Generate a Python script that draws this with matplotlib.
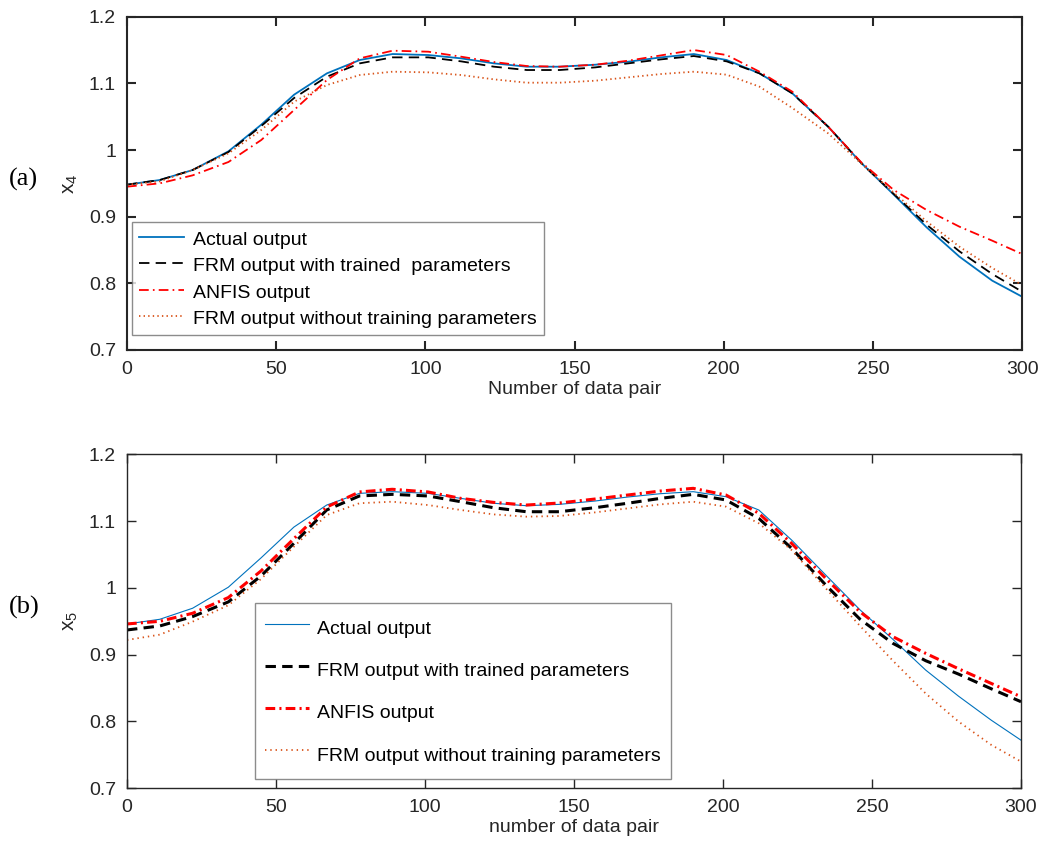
import matplotlib
matplotlib.use("Agg")
import matplotlib.pyplot as plt
import numpy as np

# sample positions (number of data pair)
pairs = [0, 11, 22, 34, 45, 56, 67, 78, 89, 101, 112, 123, 134, 145, 157, 168,
         179, 190, 201, 212, 223, 235, 246, 257, 268, 279, 290, 300]

# panel (a): x4
x4_actual = [0.948, 0.955, 0.970, 0.998, 1.038, 1.083, 1.115, 1.135, 1.144, 1.1425, 1.1375, 1.130,
             1.125, 1.125, 1.128, 1.1325, 1.139, 1.144, 1.135, 1.115, 1.085, 1.035, 0.981, 0.933,
             0.884, 0.840, 0.804, 0.780]
x4_frm_trained = [0.948, 0.955, 0.970, 0.997, 1.036, 1.078, 1.110, 1.130, 1.139, 1.139, 1.133, 1.125,
                  1.120, 1.120, 1.124, 1.130, 1.136, 1.141, 1.133, 1.115, 1.085, 1.035, 0.981, 0.934,
                  0.888, 0.848, 0.814, 0.7875]
x4_anfis = [0.945, 0.950, 0.962, 0.982, 1.015, 1.060, 1.105, 1.1375, 1.149, 1.1475, 1.140, 1.132,
            1.126, 1.125, 1.128, 1.134, 1.142, 1.150, 1.1425, 1.1175, 1.0875, 1.035, 0.982, 0.940,
            0.910, 0.885, 0.864, 0.844]
x4_frm_untrained = [0.948, 0.953, 0.970, 0.995, 1.030, 1.0725, 1.0975, 1.1125, 1.1175, 1.1165, 1.1125, 1.106,
                    1.101, 1.101, 1.104, 1.109, 1.114, 1.1175, 1.113, 1.095, 1.063, 1.025, 0.980, 0.936,
                    0.893, 0.855, 0.823, 0.7975]

# panel (b): x5
x5_actual = [0.946, 0.953, 0.9695, 1.001, 1.045, 1.091, 1.124, 1.1415, 1.144, 1.1415, 1.134, 1.1267,
             1.123, 1.125, 1.130, 1.136, 1.141, 1.144, 1.1365, 1.1166, 1.0717, 1.0168, 0.967, 0.923,
             0.877, 0.838, 0.802, 0.772]
x5_frm_trained = [0.937, 0.943, 0.957, 0.979, 1.018, 1.0667, 1.1166, 1.1376, 1.140, 1.1376, 1.129, 1.120,
                  1.114, 1.114, 1.120, 1.1267, 1.134, 1.140, 1.1316, 1.104, 1.0593, 1.0018, 0.953, 0.917,
                  0.891, 0.871, 0.849, 0.8296]
x5_anfis = [0.946, 0.950, 0.962, 0.9855, 1.0255, 1.0737, 1.121, 1.1436, 1.1476, 1.1436, 1.134, 1.128,
            1.124, 1.127, 1.133, 1.139, 1.145, 1.149, 1.139, 1.1117, 1.0667, 1.0118, 0.964, 0.927,
            0.902, 0.879, 0.857, 0.837]
x5_frm_untrained = [0.922, 0.930, 0.9494, 0.974, 1.0134, 1.0617, 1.109, 1.1267, 1.129, 1.124, 1.1166, 1.110,
                    1.1066, 1.1076, 1.113, 1.119, 1.125, 1.129, 1.1216, 1.0967, 1.0567, 0.9968, 0.943, 0.891,
                    0.842, 0.800, 0.765, 0.740]

labels_a = ['Actual output', 'FRM output with trained  parameters', 'ANFIS output',
            'FRM output without training parameters']
labels_b = ['Actual output', 'FRM output with trained parameters', 'ANFIS output',
            'FRM output without training parameters']

plt.rcParams['font.family'] = ['Liberation Sans', 'DejaVu Sans']
plt.rcParams['mathtext.fontset'] = 'custom'
plt.rcParams['mathtext.rm'] = 'Liberation Sans'
plt.rcParams['mathtext.it'] = 'Liberation Sans'
plt.rcParams['lines.scale_dashes'] = False

BLUE = '#0072BD'
ORANGE = '#D95319'
AXC = '#262626'

fig = plt.figure(figsize=(10.41, 8.48), dpi=100)
ax1 = fig.add_axes([0.122, 0.5873, 0.8598, 0.3930])
ax2 = fig.add_axes([0.122, 0.0704, 0.8588, 0.3939])


def style_axes(ax, spine_w, xlabel, ylabel):
    ax.set_xlim(0, 300)
    ax.set_ylim(0.7, 1.2)
    ax.set_xticks([0, 50, 100, 150, 200, 250, 300])
    ax.set_yticks([0.7, 0.8, 0.9, 1.0, 1.1, 1.2])
    ax.set_yticklabels(['0.7', '0.8', '0.9', '1', '1.1', '1.2'])
    ax.tick_params(direction='in', length=6.5, width=spine_w, top=True, right=True,
                   labelsize=14, colors=AXC, pad=8)
    for s in ax.spines.values():
        s.set_linewidth(spine_w)
        s.set_color(AXC)
    ax.set_xlabel(xlabel, fontsize=14, color=AXC, labelpad=2)
    ax.set_ylabel(ylabel, fontsize=15, color=AXC, labelpad=6)


# (a)
ax1.plot(pairs, x4_actual, color=BLUE, lw=1.3, label=labels_a[0])
ax1.plot(pairs, x4_frm_trained, color='black', lw=1.3, dashes=(7.5, 4.5), label=labels_a[1])
ax1.plot(pairs, x4_anfis, color='red', lw=1.3, dashes=(7, 3, 1.2, 3), label=labels_a[2])
ax1.plot(pairs, x4_frm_untrained, color=ORANGE, lw=1.3, dashes=(1.0, 2.3), label=labels_a[3])
style_axes(ax1, 1.5, 'Number of data pair', 'x$_4$')
leg1 = ax1.legend(loc='lower left', bbox_to_anchor=(0.0056, 0.045), fontsize=14, frameon=True,
                  fancybox=False, edgecolor='#707070', handlelength=2.3, handleheight=1.2,
                  labelspacing=0.30, borderpad=0.35, handletextpad=0.5, borderaxespad=0)
leg1.get_frame().set_linewidth(1.0)

# (b)
ax2.plot(pairs, x5_actual, color=BLUE, lw=0.8, label=labels_b[0])
ax2.plot(pairs, x5_frm_trained, color='black', lw=2.2, dashes=(7.5, 4.5), label=labels_b[1])
ax2.plot(pairs, x5_anfis, color='red', lw=2.2, dashes=(7, 3, 1.5, 3), label=labels_b[2])
ax2.plot(pairs, x5_frm_untrained, color=ORANGE, lw=1.3, dashes=(1.0, 2.8), label=labels_b[3])
style_axes(ax2, 1.0, 'number of data pair', 'x$_5$')
leg2 = ax2.legend(loc='lower left', bbox_to_anchor=(0.143, 0.028), fontsize=14, frameon=True,
                  fancybox=False, edgecolor='#707070', handlelength=2.3, handleheight=1.95,
                  labelspacing=0.66, borderpad=0.5, handletextpad=0.4, borderaxespad=0)
leg2.get_frame().set_linewidth(1.0)

fig.text(0.009, 1 - 179 / 848, '(a)', fontsize=19, family='Liberation Serif', va='center')
fig.text(0.009, 1 - 607 / 848, '(b)', fontsize=19, family='Liberation Serif', va='center')

fig.savefig('out.png', dpi=100)
